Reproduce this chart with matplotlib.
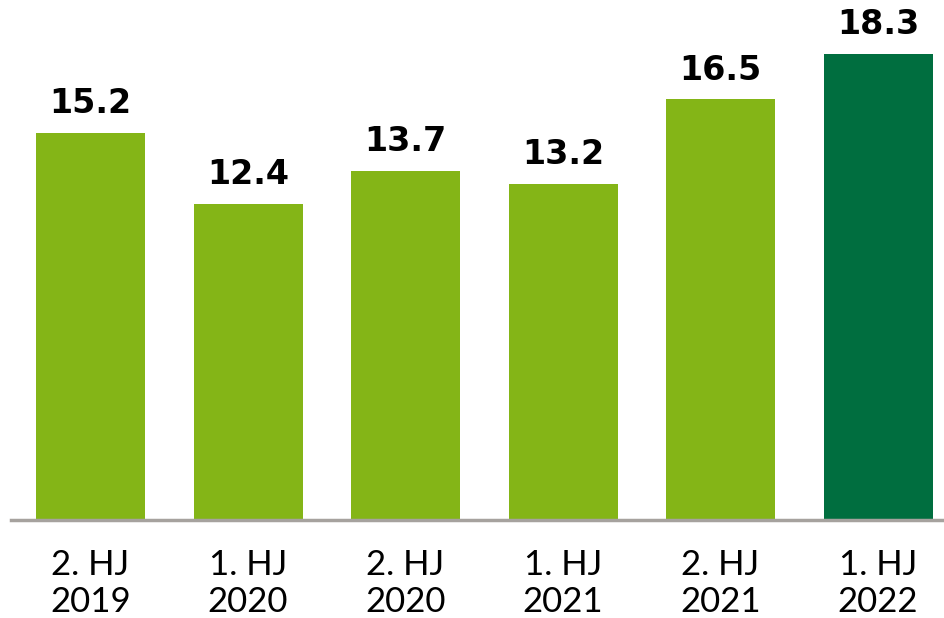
import matplotlib
matplotlib.use("Agg")
import matplotlib.pyplot as plt

categories = ["2. HJ\n2019", "1. HJ\n2020", "2. HJ\n2020", "1. HJ\n2021", "2. HJ\n2021", "1. HJ\n2022"]
values = [15.2, 12.4, 13.7, 13.2, 16.5, 18.3]
labels = ["15.2", "12.4", "13.7", "13.2", "16.5", "18.3"]
colors = ["#84B517", "#84B517", "#84B517", "#84B517", "#84B517", "#006E3F"]

fig = plt.figure(figsize=(9.44, 6.18), dpi=100)
ax = fig.add_axes([11/944, (618-520)/618, (944-11)/944, 520/618])

x = list(range(len(values)))
ax.bar(x, values, width=0.692, color=colors, zorder=2)
for xi, v, lab in zip(x, values, labels):
    ax.annotate(lab, (xi, v), xytext=(0, 9), textcoords="offset points",
                ha="center", va="bottom", fontsize=24, fontweight="bold",
                family="DejaVu Sans", color="black")

ax.set_xlim(-0.505, 5.419)
ax.set_ylim(0, 20.4)
ax.set_xticks(x)
ax.set_xticklabels(categories, fontsize=25, family="Lato", fontweight="normal",
                   linespacing=1.2)
ax.tick_params(axis="x", length=0, pad=21)
ax.set_yticks([])
for s in ["top", "right", "left"]:
    ax.spines[s].set_visible(False)
ax.spines["bottom"].set_color("#A6A29E")
ax.spines["bottom"].set_linewidth(2.5)

fig.savefig("out.png", dpi=100)
